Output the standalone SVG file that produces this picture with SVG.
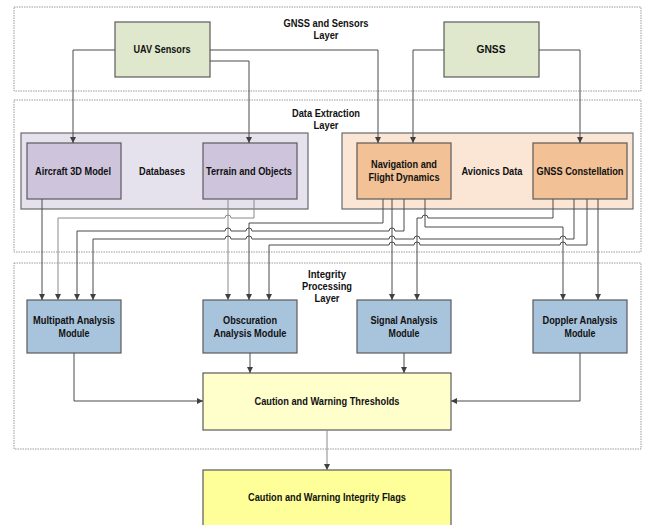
<svg xmlns="http://www.w3.org/2000/svg" width="650" height="525" viewBox="0 0 650 525">
<style>
.layer{fill:none;stroke:#9a9a9a;stroke-width:1;stroke-dasharray:1.5,1}
.box{stroke:#5a5a5a;stroke-width:1.2}
.grp{stroke:#6a6a6a;stroke-width:1.2}
.sens{fill:#dfe8cd}
.db{fill:#e6e2ed}
.dbn{fill:#cec5dc}
.av{fill:#fbe6d6}
.avn{fill:#f2c196}
.mod{fill:#a8c3dc}
.thr{fill:#ffffcc}
.flag{fill:#ffff99}
text{font-family:"Liberation Sans",Arial,sans-serif;font-size:11px;font-weight:bold;fill:#111;text-anchor:middle}
.c{fill:none;stroke:#4a4a4a;stroke-width:1}
.cl{fill:none;stroke:#8a8a8a;stroke-width:1}
.a{marker-end:url(#arr)}
</style>
<defs>
<marker id="arr" markerUnits="userSpaceOnUse" markerWidth="7" markerHeight="7" refX="6" refY="3" orient="auto">
<path d="M0,0 L6,3 L0,6 z" fill="#404040"/>
</marker>
</defs>
<rect width="650" height="525" fill="#fff"/>

<g id="layer-gnss-sensors">
<rect class="layer" x="14" y="7" width="627" height="84"/>
<text x="326" y="27" textLength="85" lengthAdjust="spacingAndGlyphs">GNSS and Sensors</text>
<text x="326" y="39" textLength="25" lengthAdjust="spacingAndGlyphs">Layer</text>
</g>
<g id="layer-data-extraction">
<rect class="layer" x="14" y="100" width="627" height="152"/>
<text x="326" y="117" textLength="68" lengthAdjust="spacingAndGlyphs">Data Extraction</text>
<text x="326" y="129" textLength="25" lengthAdjust="spacingAndGlyphs">Layer</text>
</g>
<g id="layer-integrity">
<rect class="layer" x="14" y="263" width="627" height="186"/>
<text x="327" y="278" textLength="38" lengthAdjust="spacingAndGlyphs">Integrity</text>
<text x="327" y="290" textLength="50" lengthAdjust="spacingAndGlyphs">Processing</text>
<text x="327" y="302" textLength="25" lengthAdjust="spacingAndGlyphs">Layer</text>
</g>

<g id="uav-sensors">
<rect class="box sens" x="115" y="22" width="95" height="55"/>
<text x="162" y="53" textLength="57" lengthAdjust="spacingAndGlyphs">UAV Sensors</text>
</g>
<g id="gnss">
<rect class="box sens" x="444" y="22" width="95" height="55"/>
<text x="491" y="53" textLength="29" lengthAdjust="spacingAndGlyphs">GNSS</text>
</g>

<g id="databases">
<rect class="grp db" x="21" y="133" width="287" height="76"/>
<text x="162" y="175" textLength="46" lengthAdjust="spacingAndGlyphs">Databases</text>
</g>
<g id="aircraft-3d-model">
<rect class="box dbn" x="27" y="143" width="94" height="56"/>
<text x="73" y="175" textLength="76" lengthAdjust="spacingAndGlyphs">Aircraft 3D Model</text>
</g>
<g id="terrain-objects">
<rect class="box dbn" x="203" y="143" width="94" height="56"/>
<text x="249" y="175" textLength="86" lengthAdjust="spacingAndGlyphs">Terrain and Objects</text>
</g>

<g id="avionics-data">
<rect class="grp av" x="342" y="133" width="291" height="76"/>
<text x="492" y="175" textLength="61" lengthAdjust="spacingAndGlyphs">Avionics Data</text>
</g>
<g id="navigation-flight-dynamics">
<rect class="box avn" x="357" y="143" width="94" height="56"/>
<text x="404" y="168" textLength="66" lengthAdjust="spacingAndGlyphs">Navigation and</text>
<text x="404" y="181" textLength="71" lengthAdjust="spacingAndGlyphs">Flight Dynamics</text>
</g>
<g id="gnss-constellation">
<rect class="box avn" x="533" y="143" width="94" height="56"/>
<text x="580" y="175" textLength="87" lengthAdjust="spacingAndGlyphs">GNSS Constellation</text>
</g>

<g id="multipath-module">
<rect class="box mod" x="27" y="300" width="94" height="53"/>
<text x="74" y="324" textLength="82" lengthAdjust="spacingAndGlyphs">Multipath Analysis</text>
<text x="74" y="337" textLength="31" lengthAdjust="spacingAndGlyphs">Module</text>
</g>
<g id="obscuration-module">
<rect class="box mod" x="203" y="300" width="94" height="53"/>
<text x="250" y="324" textLength="54" lengthAdjust="spacingAndGlyphs">Obscuration</text>
<text x="250" y="337" textLength="73" lengthAdjust="spacingAndGlyphs">Analysis Module</text>
</g>
<g id="signal-module">
<rect class="box mod" x="357" y="300" width="94" height="53"/>
<text x="404" y="324" textLength="67" lengthAdjust="spacingAndGlyphs">Signal Analysis</text>
<text x="404" y="337" textLength="31" lengthAdjust="spacingAndGlyphs">Module</text>
</g>
<g id="doppler-module">
<rect class="box mod" x="533" y="300" width="94" height="53"/>
<text x="580" y="324" textLength="75" lengthAdjust="spacingAndGlyphs">Doppler Analysis</text>
<text x="580" y="337" textLength="31" lengthAdjust="spacingAndGlyphs">Module</text>
</g>

<g id="thresholds">
<rect class="box thr" x="203" y="373" width="248" height="57"/>
<text x="327" y="405" textLength="145" lengthAdjust="spacingAndGlyphs">Caution and Warning Thresholds</text>
</g>
<g id="integrity-flags">
<rect class="box flag" x="203" y="470" width="248" height="60"/>
<text x="327" y="501" textLength="158" lengthAdjust="spacingAndGlyphs">Caution and Warning Integrity Flags</text>
</g>

<g id="connectors">
<path class="c a" d="M115,50 H73 V143"/>
<path class="c a" d="M210,50 H378 V143"/>
<path class="c a" d="M210,61 H249 V143"/>
<path class="c a" d="M444,50 H413 V143"/>
<path class="c a" d="M539,50 H580 V143"/>

<path class="c a" d="M42,199 V300"/>
<path class="cl a" d="M254,199 V218 H231 A3,3 0 0 0 225,218 H58 V300"/>
<path class="cl a" d="M228,199 V300"/>
<path class="c a" d="M383,199 V223 H249 V300"/>
<path class="c a" d="M404,199 V231 H395 A3,3 0 0 0 389,231 H252 A3,3 0 0 0 246,231 H231 A3,3 0 0 0 225,231 H77 V300"/>
<path class="c a" d="M392,199 V300"/>
<path class="c a" d="M425,199 V227 H563 V300"/>
<path class="c a" d="M553,199 V218 H428 A3,3 0 0 0 422,218 H417 V300"/>
<path class="c a" d="M574,199 V239 H566 A3,3 0 0 0 560,239 H420 A3,3 0 0 0 414,239 H395 A3,3 0 0 0 389,239 H252 A3,3 0 0 0 246,239 H231 A3,3 0 0 0 225,239 H93 V300"/>
<path class="c a" d="M587,199 V245 H566 A3,3 0 0 0 560,245 H420 A3,3 0 0 0 414,245 H395 A3,3 0 0 0 389,245 H269 V300"/>
<path class="c a" d="M598,199 V300"/>

<path class="c a" d="M74,353 V401 H203"/>
<path class="c a" d="M250,353 V373"/>
<path class="c a" d="M404,353 V373"/>
<path class="c a" d="M580,353 V401 H451"/>
<path class="cl a" d="M327,430 V470"/>
</g>
</svg>
